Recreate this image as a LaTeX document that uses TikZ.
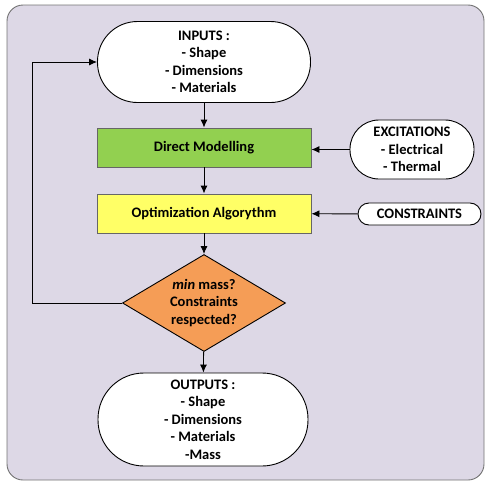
\documentclass[tikz,border=0pt]{standalone}
\usepackage{fontspec}
\setmainfont{Carlito}
\usetikzlibrary{shapes.geometric,arrows.meta}
\definecolor{bgc}{HTML}{DDD8E6}
\definecolor{grn}{HTML}{92D050}
\definecolor{yel}{HTML}{FFFF66}
\definecolor{org}{HTML}{F59D56}
\begin{document}
\begin{tikzpicture}[x=1pt,y=-1pt,
  font=\bfseries\fontsize{14.5}{17.5}\selectfont,
  term/.style={draw=black,fill=white,line width=0.9pt,align=center,inner sep=0pt},
  boxx/.style={draw=black!60,line width=0.9pt,minimum width=214pt,minimum height=39pt,inner sep=0pt},
  dia/.style={draw=black,fill=org,line width=0.9pt,diamond,aspect=1.68,minimum width=163pt,minimum height=97pt,inner sep=0pt},
  arr/.style={line width=0.9pt,-{Latex[length=8pt,width=7pt]}}]
\useasboundingbox (0,0) rectangle (485,482);
\draw[draw=black!55,fill=bgc,line width=0.9pt,rounded corners=16pt] (7,5) rectangle (484,480);

\node[term,minimum width=213pt,minimum height=81pt,rounded corners=40pt] (in) at (204,62) {INPUTS :\\- Shape\\- Dimensions\\- Materials};
\node[boxx,fill=grn] (dm) at (204,147.5) {Direct Modelling};
\node[boxx,fill=yel] (oa) at (204,213.5) {Optimization Algorythm};
\node[dia] (d) at (204,303) {};
\node[align=center,inner sep=0pt] (dt) at (d.center) {\textit{min} mass?\\Constraints\\respected?};
\node[term,minimum width=210pt,minimum height=93pt,rounded corners=46pt] (out) at (203,419.5) {OUTPUTS :\\- Shape\\- Dimensions\\- Materials\\-Mass};
\node[term,minimum width=124pt,minimum height=59pt,rounded corners=29pt] (ex) at (412,149.5) {EXCITATIONS\\- Electrical\\- Thermal};
\node[term,minimum width=123pt,minimum height=22pt,rounded corners=11pt] (co) at (419.5,214) {CONSTRAINTS};
\coordinate (c1) at (32,303);
\coordinate (c2) at (32,62);

\draw[arr] (in) -- (dm);
\draw[arr] (dm) -- (oa);
\draw[arr] (oa) -- (d);
\draw[arr] (d) -- (out);
\draw[arr] (ex.west) -- (dm.east |- ex.west);
\draw[arr] (co) -- (oa);
\draw[arr] (d.west) -- (c1) -- (c2) -- (in.west);
\end{tikzpicture}
\end{document}
